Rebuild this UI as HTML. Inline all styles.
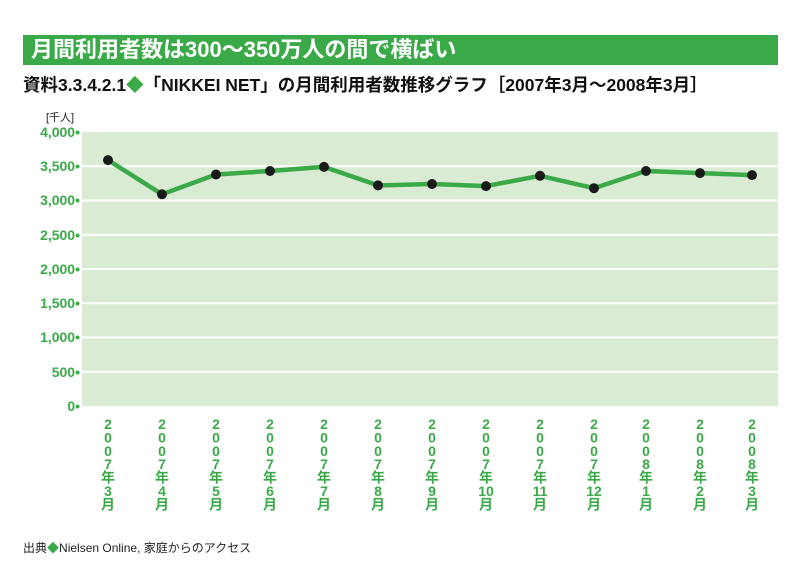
<!DOCTYPE html>
<html><head><meta charset="utf-8"><style>
body{margin:0;width:800px;height:583px;background:#fff;font-family:"Liberation Sans","Noto Sans CJK JP",sans-serif;position:relative;overflow:hidden}
.bar{position:absolute;left:23px;top:35px;width:755px;height:30px;background:#3aaa48;color:#fff;font-weight:bold;font-size:22px;line-height:30px;padding-left:8px;box-sizing:border-box}
.sub{position:absolute;left:23px;top:72px;font-weight:bold;font-size:17.5px;line-height:26px;color:#111}
.foot{position:absolute;left:23px;top:539px;font-size:12px;color:#222}
</style></head><body>
<div class="bar">月間利用者数は300～350万人の間で横ばい</div>
<div class="sub">資料3.3.4.2.1<span style="color:#3aaa48">◆</span>「NIKKEI NET」の月間利用者数推移グラフ［2007年3月～2008年3月］</div>
<svg width="800" height="583" style="position:absolute;left:0;top:0" font-family="Liberation Sans, Noto Sans CJK JP, sans-serif">
<rect x="82" y="132" width="696" height="274" fill="#d9ebd2"/>
<g stroke="#fff" stroke-width="2">
<line x1="82" x2="778" y1="166.25" y2="166.25"/><line x1="82" x2="778" y1="200.5" y2="200.5"/><line x1="82" x2="778" y1="234.75" y2="234.75"/><line x1="82" x2="778" y1="269" y2="269"/><line x1="82" x2="778" y1="303.25" y2="303.25"/><line x1="82" x2="778" y1="337.5" y2="337.5"/><line x1="82" x2="778" y1="371.75" y2="371.75"/>
</g>
<text x="46" y="121" font-size="11" fill="#222">[千人]</text>
<g font-size="14" font-weight="bold" fill="#3aaa48" text-anchor="end">
<text x="80" y="137">4,000•</text><text x="80" y="171">3,500•</text><text x="80" y="205">3,000•</text><text x="80" y="240">2,500•</text><text x="80" y="274">2,000•</text><text x="80" y="308">1,500•</text><text x="80" y="342">1,000•</text><text x="80" y="377">500•</text><text x="80" y="411">0•</text>
</g>
<polyline fill="none" stroke="#3aaa48" stroke-width="4.5" stroke-linejoin="round" points="108,160.1 162,194.3 216,174.5 270,171 324,166.9 378,185.4 432,184 486,186.1 540,175.8 594,188.2 646,171 700,173.1 752,175.1"/>
<g fill="#1a1a1a">
<circle cx="108" cy="160.1" r="5"/><circle cx="162" cy="194.3" r="5"/><circle cx="216" cy="174.5" r="5"/><circle cx="270" cy="171" r="5"/><circle cx="324" cy="166.9" r="5"/><circle cx="378" cy="185.4" r="5"/><circle cx="432" cy="184" r="5"/><circle cx="486" cy="186.1" r="5"/><circle cx="540" cy="175.8" r="5"/><circle cx="594" cy="188.2" r="5"/><circle cx="646" cy="171" r="5"/><circle cx="700" cy="173.1" r="5"/><circle cx="752" cy="175.1" r="5"/>
</g>
<g font-size="14" font-weight="bold" fill="#3aaa48" text-anchor="middle" id="lab"></g>
</svg>
<script>
var xs=[108,162,216,270,324,378,432,486,540,594,646,700,752];
var lab=[["2","0","0","7","年","3","月"],["2","0","0","7","年","4","月"],["2","0","0","7","年","5","月"],["2","0","0","7","年","6","月"],["2","0","0","7","年","7","月"],["2","0","0","7","年","8","月"],["2","0","0","7","年","9","月"],["2","0","0","7","年","10","月"],["2","0","0","7","年","11","月"],["2","0","0","7","年","12","月"],["2","0","0","8","年","1","月"],["2","0","0","8","年","2","月"],["2","0","0","8","年","3","月"]];
var g=document.getElementById("lab"),s="";
for(var i=0;i<13;i++)for(var j=0;j<7;j++)s+='<text x="'+xs[i]+'" y="'+(429+j*13.4)+'">'+lab[i][j]+'</text>';
g.innerHTML=s;
</script>
<div class="foot">出典<span style="color:#3aaa48">◆</span>Nielsen Online, 家庭からのアクセス</div>
</body></html>
